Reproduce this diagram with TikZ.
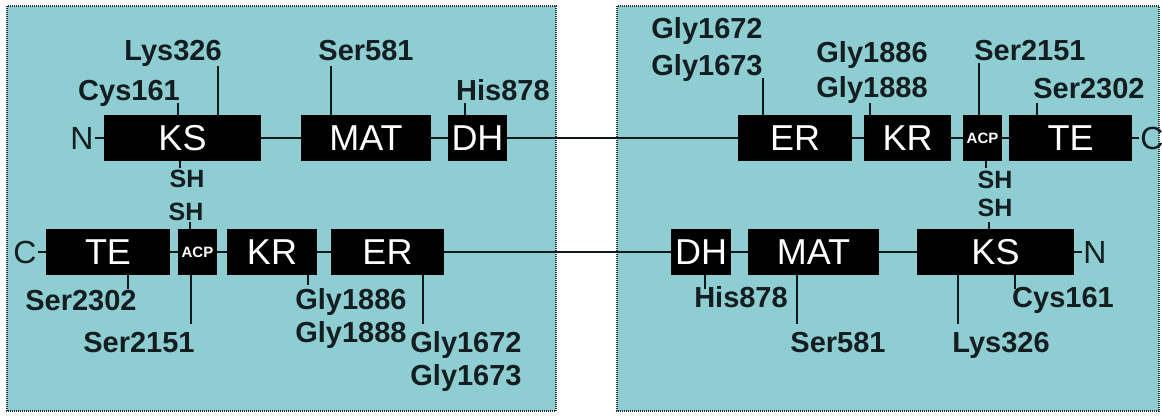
\documentclass[tikz,border=0pt]{standalone}
\usepackage{fontspec}
\setmainfont{Liberation Sans}
\definecolor{panelc}{RGB}{142,206,210}
\definecolor{borderc}{RGB}{40,50,55}
\definecolor{labc}{RGB}{20,30,32}
\definecolor{linec}{RGB}{15,25,28}
\newcommand\tk[4]{\coordinate (#1) at (#2,#3); \draw[tickl] (#1) -- (#1 |- #4);}
\begin{document}
\begin{tikzpicture}[x=1pt,y=-1pt,
  dom/.style={fill=black,text=white,inner sep=0pt,minimum height=46pt,font=\fontsize{36}{36}\selectfont},
  acp/.style={dom,font=\bfseries\fontsize{15}{15}\selectfont},
  lab/.style={inner sep=0pt,anchor=base,text=labc,font=\bfseries\fontsize{29}{34}\selectfont},
  sh/.style={inner sep=0pt,anchor=base,text=labc,font=\bfseries\fontsize{25}{25}\selectfont},
  term/.style={inner sep=1pt,text=labc,font=\fontsize{32}{32}\selectfont},
  link/.style={line width=2pt,draw=linec},
  tickl/.style={line width=2pt,draw=linec},
  panel/.style={fill=panelc,draw=borderc,line width=1.2pt,dash pattern=on 1pt off 1pt}]
\useasboundingbox (0,0) rectangle (1162,416);
% panels
\path[panel] (7,6) rectangle (556,411);
\path[panel] (617,6) rectangle (1159,411);
% top row domains
\node[dom,minimum width=157pt] (KSa) at (182.5,138) {KS};
\node[dom,minimum width=130pt] (MATa) at (366,138) {MAT};
\node[dom,minimum width=59pt] (DHa) at (477.5,138) {DH};
\node[dom,minimum width=114pt] (ERb) at (795,138) {ER};
\node[dom,minimum width=87pt] (KRb) at (907.5,138) {KR};
\node[acp,minimum width=39pt] (ACPb) at (982.5,138) {ACP};
\node[dom,minimum width=123pt] (TEb) at (1070.5,138) {TE};
% bottom row domains
\node[dom,minimum width=124pt] (TEa) at (108,252) {TE};
\node[acp,minimum width=39pt] (ACPa) at (197.5,252) {ACP};
\node[dom,minimum width=90pt] (KRa) at (272,252) {KR};
\node[dom,minimum width=113pt] (ERa) at (387.5,252) {ER};
\node[dom,minimum width=60pt] (DHb) at (701,252) {DH};
\node[dom,minimum width=131pt] (MATb) at (813.5,252) {MAT};
\node[dom,minimum width=157pt] (KSb) at (995.5,252) {KS};
% termini
\node[term] (Na) at (82,138) {N};
\node[term] (Cb) at (1152,138) {C};
\node[term] (Ca) at (25,252) {C};
\node[term] (Nb) at (1095,252) {N};
% chain links
\draw[link] (Na) -- (KSa);
\draw[link] (KSa) -- (MATa);
\draw[link] (MATa) -- (DHa);
\draw[link] (DHa) -- (ERb);
\draw[link] (ERb) -- (KRb);
\draw[link] (KRb) -- (ACPb);
\draw[link] (ACPb) -- (TEb);
\draw[link] (TEb) -- (Cb);
\draw[link] (Ca) -- (TEa);
\draw[link] (TEa) -- (ACPa);
\draw[link] (ACPa) -- (KRa);
\draw[link] (KRa) -- (ERa);
\draw[link] (ERa) -- (DHb);
\draw[link] (DHb) -- (MATb);
\draw[link] (MATb) -- (KSb);
\draw[link] (KSb) -- (Nb);
% top-left labels
\node[lab] (cysA) at (129,100) {Cys161};
\node[lab] (lysA) at (173,60) {Lys326};
\node[lab] (serA) at (366,60) {Ser581};
\node[lab] (hisA) at (503,100) {His878};
\tk{tcysA}{178}{103}{KSa.north}
\tk{tlysA}{218}{66}{KSa.north}
\tk{tserA}{331}{66}{MATa.north}
\tk{thisA}{465}{103}{DHa.north}
% SH pair left
\node[sh] (shA1) at (187,187) {SH};
\node[sh] (shA2) at (186,220) {SH};
\tk{tshA1}{180}{168}{KSa.south}
\tk{tshA2}{190}{222}{ACPa.north}
% bottom-left labels
\node[lab] (ser2302A) at (81,310) {Ser2302};
\node[lab] (ser2151A) at (139,352) {Ser2151};
\node[lab] (gly1886A) at (351,309) {Gly1886};
\node[lab] (gly1888A) at (351,342) {Gly1888};
\node[lab] (gly1672A) at (466,352) {Gly1672};
\node[lab] (gly1673A) at (466,385) {Gly1673};
\tk{tser2302A}{128}{289}{TEa.south}
\tk{tser2151A}{191}{324}{ACPa.south}
\tk{tgly1886A}{308}{285}{KRa.south}
\tk{tgly1672A}{423}{324}{ERa.south}
% top-right labels
\node[lab] (gly1672B) at (707,38) {Gly1672};
\node[lab] (gly1673B) at (707,75) {Gly1673};
\node[lab] (gly1886B) at (872,62) {Gly1886};
\node[lab] (gly1888B) at (872,97) {Gly1888};
\node[lab] (ser2151B) at (1030,60) {Ser2151};
\node[lab] (ser2302B) at (1089,98) {Ser2302};
\tk{tgly1672B}{763}{78}{ERb.north}
\tk{tgly1886B}{870}{103}{KRb.north}
\tk{tser2151B}{979}{63}{ACPb.north}
\tk{tser2302B}{1037}{103}{TEb.north}
% SH pair right
\node[sh] (shB1) at (995,188) {SH};
\node[sh] (shB2) at (995,216) {SH};
\tk{tshB1}{986}{168}{ACPb.south}
\tk{tshB2}{989}{222}{KSb.north}
% bottom-right labels
\node[lab] (hisB) at (741,307) {His878};
\node[lab] (serB) at (838,352) {Ser581};
\node[lab] (lysB) at (1001,352) {Lys326};
\node[lab] (cysB) at (1063,307) {Cys161};
\tk{thisB}{705}{289}{DHb.south}
\tk{tserB}{797}{324}{MATb.south}
\tk{tlysB}{958}{324}{KSb.south}
\tk{tcysB}{1015}{289}{KSb.south}
\end{tikzpicture}
\end{document}
